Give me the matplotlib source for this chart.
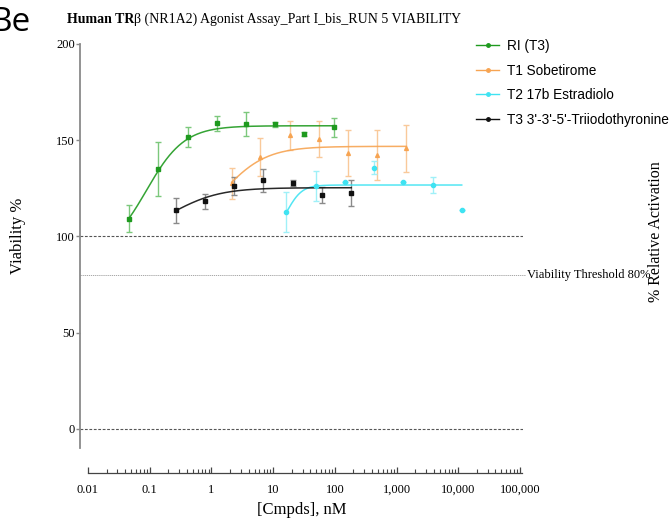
import numpy as np
import matplotlib
matplotlib.use("Agg")
import matplotlib.pyplot as plt
from matplotlib.lines import Line2D

# ---------------- data ----------------
ri_x = [0.0467, 0.138, 0.413, 1.22, 3.6, 10.7, 32, 97]
ri_y = [109.2, 134.8, 151.6, 158.7, 158.4, 158.2, 153.2, 156.6]
ri_e = [7.0, 14.0, 5.3, 3.9, 6.0, 1.5, 1.0, 4.8]

t1_x = [2.13, 6.2, 18.6, 55.5, 164, 489, 1442]
t1_y = [127.6, 141.2, 152.6, 150.7, 143.5, 142.3, 145.7]
t1_e = [8.0, 9.8, 7.5, 9.5, 12.0, 13.0, 12.0]

t2_x = [16.4, 49, 146, 437, 1290, 3860, 11400]
t2_y = [112.8, 126.2, 128.1, 135.7, 128.4, 126.7, 113.7]
t2_e = [10.3, 8.0, 0.0, 3.5, 0.0, 4.0, 0.0]

t3_x = [0.267, 0.787, 2.35, 6.94, 20.8, 62, 185]
t3_y = [113.5, 118.2, 126.3, 129.1, 127.9, 121.6, 122.4]
t3_e = [6.4, 4.0, 4.6, 6.0, 1.5, 4.0, 6.8]

# 4PL fit parameters (bottom, top, EC50, hill)
ri_fit = (90.0, 157.5, 0.088, 1.41)
t1_fit = (100.0, 146.8, 1.53, 1.23)
t2_fit = (100.0, 126.7, 17.0, 3.6)
t3_fit = (100.0, 125.3, 0.24, 1.13)

labels = ["RI (T3)", "T1 Sobetirome", "T2 17b Estradiolo", "T3 3'-3'-5'-Triiodothyronine"]
colors = ["#1f9a1f", "#f7a452", "#3fe3f2", "#111111"]
ecolors = ["#7cc87c", "#f9c99a", "#9ff0f8", "#8a8a8a"]
markers = ["s", "^", "o", "s"]

yticks = [0, 50, 100, 150, 200]
xticks = [0.01, 0.1, 1, 10, 100, 1000, 10000, 100000]
xticklabels = ["0.01", "0.1", "1", "10", "100", "1,000", "10,000", "100,000"]


def fourpl(x, p):
    b, t, ec, h = p
    return b + (t - b) / (1.0 + (ec / x) ** h)


serif = ["Liberation Serif", "DejaVu Serif"]
sans = ["Liberation Sans", "DejaVu Sans"]

fig = plt.figure(figsize=(6.72, 5.18), dpi=100)
W, H = 672, 518
ax = fig.add_axes([80 / W, 1 - 448 / H, 443 / W, 404 / H])

ax.set_xscale("log")
ax.set_xlim(10 ** (-2 - 8 / 61.7), 10 ** (-2 + 435 / 61.7))
ax.set_ylim(-10, 200)

series = [
    (ri_x, ri_y, ri_e, ri_fit),
    (t1_x, t1_y, t1_e, t1_fit),
    (t2_x, t2_y, t2_e, t2_fit),
    (t3_x, t3_y, t3_e, t3_fit),
]
for i, (xs, ys, es, fit) in enumerate(series):
    xs = np.array(xs); ys = np.array(ys); es = np.array(es)
    xx = np.logspace(np.log10(xs.min()), np.log10(xs.max()), 200)
    ax.plot(xx, fourpl(xx, fit), color=colors[i], lw=1.1, alpha=0.9, zorder=3)
    ax.errorbar(xs, ys, yerr=es, fmt="none", ecolor=ecolors[i], elinewidth=1.0,
                capsize=2.5, capthick=1.0, zorder=2)
    ms = 3.0 if markers[i] != "^" else 2.8
    ax.plot(xs, ys, ls="none", marker=markers[i], ms=ms, color=colors[i],
            mec=colors[i], zorder=4)

# reference lines
ax.axhline(100, color="#555555", lw=0.8, ls=(0, (2.5, 1.5)), zorder=1)
ax.axhline(0, color="#555555", lw=0.8, ls=(0, (2.5, 1.5)), zorder=1)
ax.plot([0, 1.005], [80, 80], transform=ax.get_yaxis_transform(), color="#9a9a9a",
        lw=0.6, ls=(0, (1.5, 1)), clip_on=False, zorder=1)
ax.text(1.01, 80, "Viability Threshold 80%", transform=ax.get_yaxis_transform(),
        ha="left", va="center", fontsize=9, family=serif)

# spines
for s in ["top", "right"]:
    ax.spines[s].set_visible(False)
ax.spines["left"].set_color("#8a8a8a")
ax.spines["left"].set_linewidth(1.3)
ax.spines["bottom"].set_position(("outward", 18))
ax.spines["bottom"].set_bounds(0.01, 10 ** 5.04)
ax.spines["bottom"].set_color("#444444")
ax.spines["bottom"].set_linewidth(0.9)

ax.set_yticks(yticks)
ax.set_yticklabels([str(v) for v in yticks], family=serif, fontsize=9)
ax.tick_params(axis="y", direction="out", length=3, width=1, color="#8a8a8a", pad=0.5)

ax.set_xticks(xticks)
ax.set_xticklabels(xticklabels, family=serif, fontsize=9)
minor = [m * 10.0 ** d for d in range(-2, 5) for m in range(2, 10)]
ax.xaxis.set_minor_locator(matplotlib.ticker.FixedLocator(minor))
ax.xaxis.set_minor_formatter(matplotlib.ticker.NullFormatter())
ax.tick_params(axis="x", which="major", direction="in", length=4, width=0.9, color="#444444", pad=8)
ax.tick_params(axis="x", which="minor", direction="in", length=3, width=0.8, color="#444444")

ax.set_xlabel("[Cmpds], nM", family=serif, fontsize=12, labelpad=4)
fig.text(18 / W, 1 - 236 / H, "Viability %", rotation=90, ha="center", va="center",
         family=serif, fontsize=12)
fig.text(656 / W, 1 - 232 / H, "% Relative Activation", rotation=90, ha="center",
         va="center", family=serif, fontsize=11.5)

# legend
handles = [Line2D([0], [0], color=colors[i], lw=1.0, marker="o", ms=2.5)
           for i in range(4)]
fig.legend(handles, labels, loc="upper left", bbox_to_anchor=(476 / W, 1 - 39 / H),
           frameon=False, prop={"family": sans, "size": 9.8}, handlelength=1.7,
           handletextpad=0.6, labelspacing=0.78, borderaxespad=0, borderpad=0)

# title (bold + normal parts)
fig.canvas.draw()
renderer = fig.canvas.get_renderer()
t_b = fig.text(67 / W, 1 - 23 / H, "Human TR", family=serif, fontsize=10,
               fontweight="bold", ha="left", va="baseline")
bb = t_b.get_window_extent(renderer=renderer)
fig.text(bb.x1 / W, 1 - 23 / H, "\u03b2 (NR1A2) Agonist Assay_Part I_bis_RUN 5 VIABILITY",
         family=serif, fontsize=10, ha="left", va="baseline")

# panel label
fig.text(-9 / W, 1 - 31 / H, "Be", family=["Open Sans", "DejaVu Sans"], fontsize=24,
         ha="left", va="baseline")

fig.savefig("out.png", dpi=100)
